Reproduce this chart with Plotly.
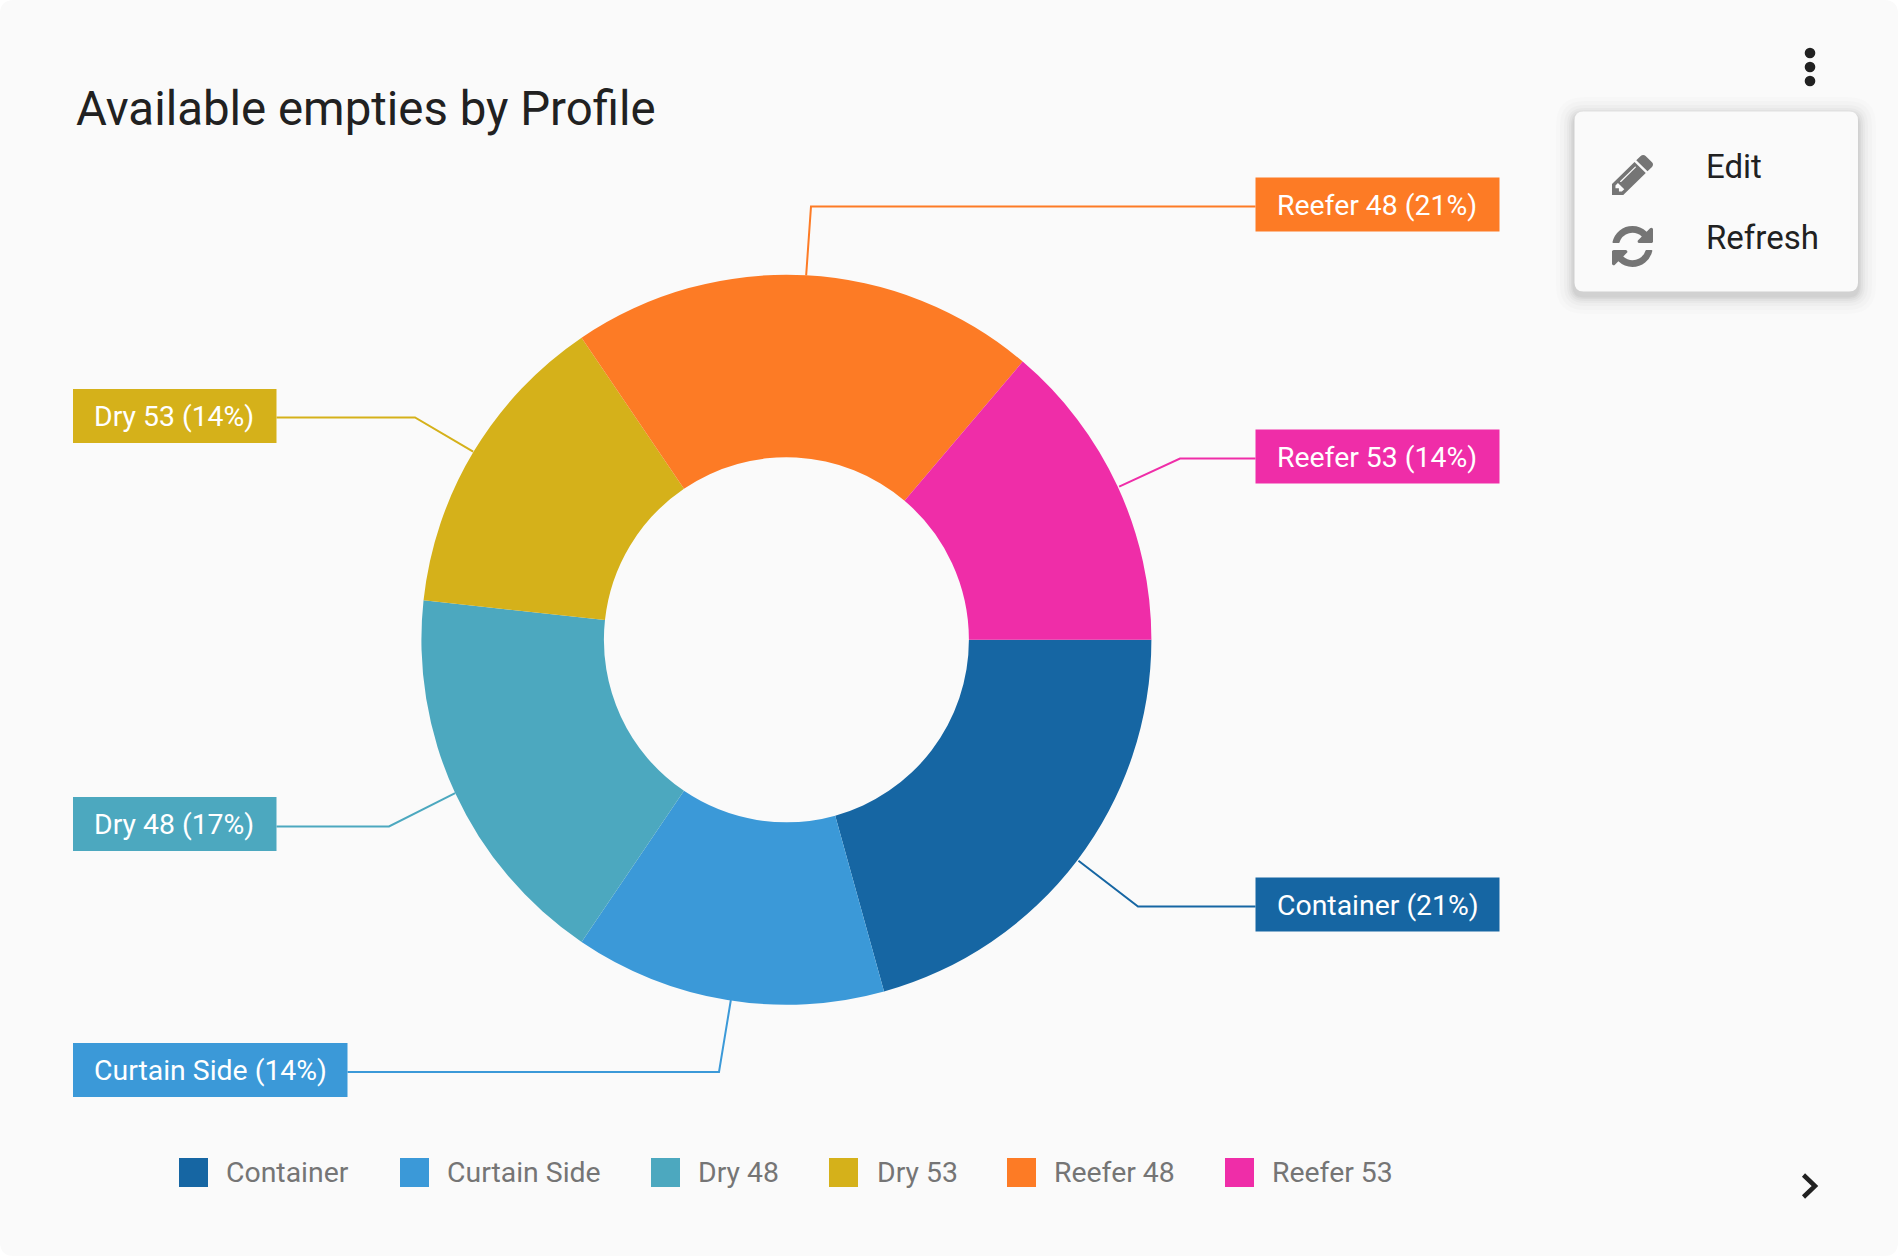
import math, re
import plotly.graph_objects as go

W, H = 1898, 1256

# ---- data ----
categories = ["Container", "Curtain Side", "Dry 48", "Dry 53", "Reefer 48", "Reefer 53"]
values = [6, 4, 5, 4, 6, 4]
colors = ["#1666a3", "#3b99d8", "#4ca8bf", "#d5b11a", "#fd7b25", "#ef2da8"]

title_text = "Available empties by Profile"
menu_items = ["Edit", "Refresh"]

# ---- layout constants (pixels) ----
CX, CY, R = 786.4, 639.8, 365
box_left = [1255.5, 73, 73, 73, 1255.5, 1255.5]
box_right = [1499.5, 347.5, 276.5, 276.5, 1499.5, 1499.5]
box_mid = [904.5, 1070, 824, 416, 204.5, 456.5]
elbow_x = [1138, 719, 389, 415, 811, 1180]
line_y = [906.5, 1072, 826.5, 417.5, 206.5, 458.5]
leader_nudge = [1.5, 3.5, 0, -0.5, 0, 1.5]
legend_sw_x = [179, 400, 651, 829, 1007, 1225]
legend_tx_x = [224, 445, 696, 874.5, 1052, 1270]
legend_y = 1172.5

FONT = "Roboto"


def X(x):
    return x / W


def Y(y):
    return 1 - y / H


def rrect(x0, y0, x1, y1, r):
    return (
        f"M{X(x0 + r)},{Y(y0)} L{X(x1 - r)},{Y(y0)} Q{X(x1)},{Y(y0)} {X(x1)},{Y(y0 + r)} "
        f"L{X(x1)},{Y(y1 - r)} Q{X(x1)},{Y(y1)} {X(x1 - r)},{Y(y1)} "
        f"L{X(x0 + r)},{Y(y1)} Q{X(x0)},{Y(y1)} {X(x0)},{Y(y1 - r)} "
        f"L{X(x0)},{Y(y0 + r)} Q{X(x0)},{Y(y0)} {X(x0 + r)},{Y(y0)} Z"
    )


def parse_icon(d):
    """Relative SVG path -> absolute segments."""
    toks = re.findall(r"[a-zA-Z]|-?\d*\.?\d+", d)
    i, cx, cy, sx, sy, cmd = 0, 0, 0, 0, 0, None
    px, py = None, None
    out = []

    def num():
        nonlocal i
        v = float(toks[i])
        i += 1
        return v

    while i < len(toks):
        if toks[i].isalpha():
            cmd = toks[i]
            i += 1
            if cmd in "zZ":
                out.append(("Z",))
                cx, cy = sx, sy
                continue
        rel = cmd.islower()
        c = cmd.lower()
        ox, oy = (cx, cy) if rel else (0, 0)
        if c == "m":
            cx, cy = ox + num(), oy + num()
            sx, sy = cx, cy
            out.append(("M", cx, cy))
            cmd = "l" if rel else "L"
            px = None
        elif c == "l":
            cx, cy = ox + num(), oy + num()
            out.append(("L", cx, cy))
            px = None
        elif c == "h":
            cx = ox + num()
            out.append(("L", cx, cy))
            px = None
        elif c == "v":
            cy = oy + num()
            out.append(("L", cx, cy))
            px = None
        elif c == "q":
            qx, qy = ox + num(), oy + num()
            cx, cy = ox + num(), oy + num()
            out.append(("Q", qx, qy, cx, cy))
            px, py = qx, qy
        elif c == "t":
            qx = 2 * cx - px if px is not None else cx
            qy = 2 * cy - py if py is not None else cy
            cx, cy = ox + num(), oy + num()
            out.append(("Q", qx, qy, cx, cy))
            px, py = qx, qy
    return out


def icon_path(d, x0, y0, x1, y1):
    segs = parse_icon(d)
    xs, ys = [], []
    for s in segs:
        if s[0] != "Z":
            xs += [s[-2]]
            ys += [s[-1]]
    mnx, mxx, mny, mxy = min(xs), max(xs), min(ys), max(ys)
    fx = lambda v: X(x0 + (v - mnx) / (mxx - mnx) * (x1 - x0))
    fy = lambda v: Y(y0 + (v - mny) / (mxy - mny) * (y1 - y0))
    parts = []
    for s in segs:
        if s[0] == "Z":
            parts.append("Z")
        elif s[0] == "Q":
            parts.append(f"Q{fx(s[1])},{fy(s[2])} {fx(s[3])},{fy(s[4])}")
        else:
            parts.append(f"{s[0]}{fx(s[1])},{fy(s[2])}")
    return " ".join(parts)


PENCIL = ("M491 1536l91-91-235-235-91 91v107h128v128h107zm523-928q0-22-22-22-10 0-17 7l-542 542q-7 7-7 17 "
          "0 22 22 22 10 0 17-7l542-542q7-7 7-17zm-54-192l416 416-832 832h-416v-416zm683 96q0 53-37 90l-166 "
          "166-416-416 166-165q36-38 90-38 53 0 91 38l235 234q37 39 37 91z")
REFRESH = ("M1511 928q0 5-1 7-64 268-268 434.5t-478 166.5q-146 0-282.5-55t-243.5-157l-129 129q-19 19-45 19t-45-19"
           "-19-45v-448q0-26 19-45t45-19h448q26 0 45 19t19 45-19 45l-137 137q71 66 161 102t187 36q134 0 250-65"
           "t186-179q11-17 53-117 8-23 30-23h192q13 0 22.5 9.5t9.5 22.5zm25-800v448q0 26-19 45t-45 19h-448q-26 0"
           "-45-19t-19-45 19-45l138-138q-148-137-349-137-134 0-250 65t-186 179q-11 17-53 117-8 23-30 23h-199q-13"
           " 0-22.5-9.5t-9.5-22.5v-7q65-268 270-434.5t480-166.5q146 0 284 55.5t245 156.5l130-129q19-19 45-19t45 "
           "19 19 45z")

total = sum(values)
shapes, annotations = [], []

# card background
shapes.append(dict(type="path", path=rrect(0, 0, W, H, 14), fillcolor="#fafafa",
                   line=dict(width=0), xref="paper", yref="paper", layer="below"))

# leader lines and label boxes, derived from slice mid-angles
acc = 0
for i, (name, v, col) in enumerate(zip(categories, values, colors)):
    mid = (acc + v / 2) / total * 2 * math.pi
    acc += v
    sx, sy = CX + R * math.cos(mid) + leader_nudge[i], CY + R * math.sin(mid)
    right = box_left[i] > CX
    ex = box_left[i] if right else box_right[i]
    shapes.append(dict(
        type="path",
        path=f"M{X(sx)},{Y(sy)} L{X(elbow_x[i])},{Y(line_y[i])} L{X(ex)},{Y(line_y[i])}",
        line=dict(color=col, width=2), xref="paper", yref="paper", layer="below"))
    shapes.append(dict(type="rect", x0=X(box_left[i]), x1=X(box_right[i]),
                       y0=Y(box_mid[i] + 27), y1=Y(box_mid[i] - 27),
                       fillcolor=col, line=dict(width=0), xref="paper", yref="paper"))
    pct = round(v / total * 100)
    annotations.append(dict(x=X(box_left[i] + 19.2), y=Y(box_mid[i] + 0.6), text=f"{name} ({pct}%)",
                            xref="paper", yref="paper", xanchor="left", yanchor="middle",
                            showarrow=False, font=dict(family=FONT, size=28.4, color="#ffffff")))
    # legend
    shapes.append(dict(type="rect", x0=X(legend_sw_x[i]), x1=X(legend_sw_x[i] + 29),
                       y0=Y(legend_y + 14.5), y1=Y(legend_y - 14.5),
                       fillcolor=col, line=dict(width=0), xref="paper", yref="paper"))
    annotations.append(dict(x=X(legend_tx_x[i]), y=Y(legend_y), text=name, xref="paper", yref="paper",
                            xanchor="left", yanchor="middle", showarrow=False,
                            font=dict(family=FONT, size=28.4, color="#757575")))

# title
annotations.append(dict(x=X(73.5), y=Y(108.8), text=title_text, xref="paper", yref="paper", xanchor="left",
                        yanchor="middle", showarrow=False, font=dict(family=FONT, size=47.4, color="#212121")))

# three-dot button
for cy in (53, 67, 81):
    shapes.append(dict(type="circle", x0=X(1804.7), x1=X(1815.3), y0=Y(cy + 5.3), y1=Y(cy - 5.3),
                       fillcolor="#212121", line=dict(width=0), xref="paper", yref="paper"))

# menu with soft shadow
for grow, a in ((18, .012), (14, .016), (10, .02), (7, .024), (5, .026), (3, .03), (1.5, .035)):
    shapes.append(dict(type="path", path=rrect(1574 - grow, 111 - grow + 4, 1858 + grow, 292 + grow + 4, 10 + grow),
                       fillcolor=f"rgba(0,0,0,{a})", line=dict(width=0), xref="paper", yref="paper"))
shapes.append(dict(type="path", path=rrect(1574.5, 111.5, 1858, 291.5, 9), fillcolor="#fafafa",
                   line=dict(width=0), xref="paper", yref="paper"))
shapes.append(dict(type="path", path=icon_path(PENCIL, 1612, 155, 1653, 195), fillcolor="#757575",
                   line=dict(width=0), xref="paper", yref="paper"))
shapes.append(dict(type="path", path=icon_path(REFRESH, 1612, 226, 1653, 267), fillcolor="#757575",
                   line=dict(width=0), xref="paper", yref="paper"))
for label, y in zip(menu_items, (166, 237.2)):
    annotations.append(dict(x=X(1704.2), y=Y(y), text=label, xref="paper", yref="paper", xanchor="left",
                            yanchor="middle", showarrow=False, font=dict(family=FONT, size=33, color="#212121")))

# chevron
shapes.append(dict(type="path", path=f"M{X(1803.5)},{Y(1175)} L{X(1815)},{Y(1186)} L{X(1803.5)},{Y(1197)}",
                   line=dict(color="#212121", width=4.5), xref="paper", yref="paper"))

fig = go.Figure(go.Pie(
    labels=categories, values=values, hole=0.5, sort=False, direction="clockwise", rotation=90,
    marker=dict(colors=colors, line=dict(width=0)), textinfo="none", showlegend=False,
    domain=dict(x=[X(CX - R), X(CX + R)], y=[Y(CY + R), Y(CY - R)]),
))
fig.update_layout(width=W, height=H, margin=dict(l=0, r=0, t=0, b=0, pad=0), paper_bgcolor="#ffffff",
                  plot_bgcolor="#ffffff", shapes=shapes, annotations=annotations, showlegend=False)
fig.write_html("out.html", config=dict(displayModeBar=False),
               post_script="document.body.style.margin='0';document.body.style.overflow='hidden';")
